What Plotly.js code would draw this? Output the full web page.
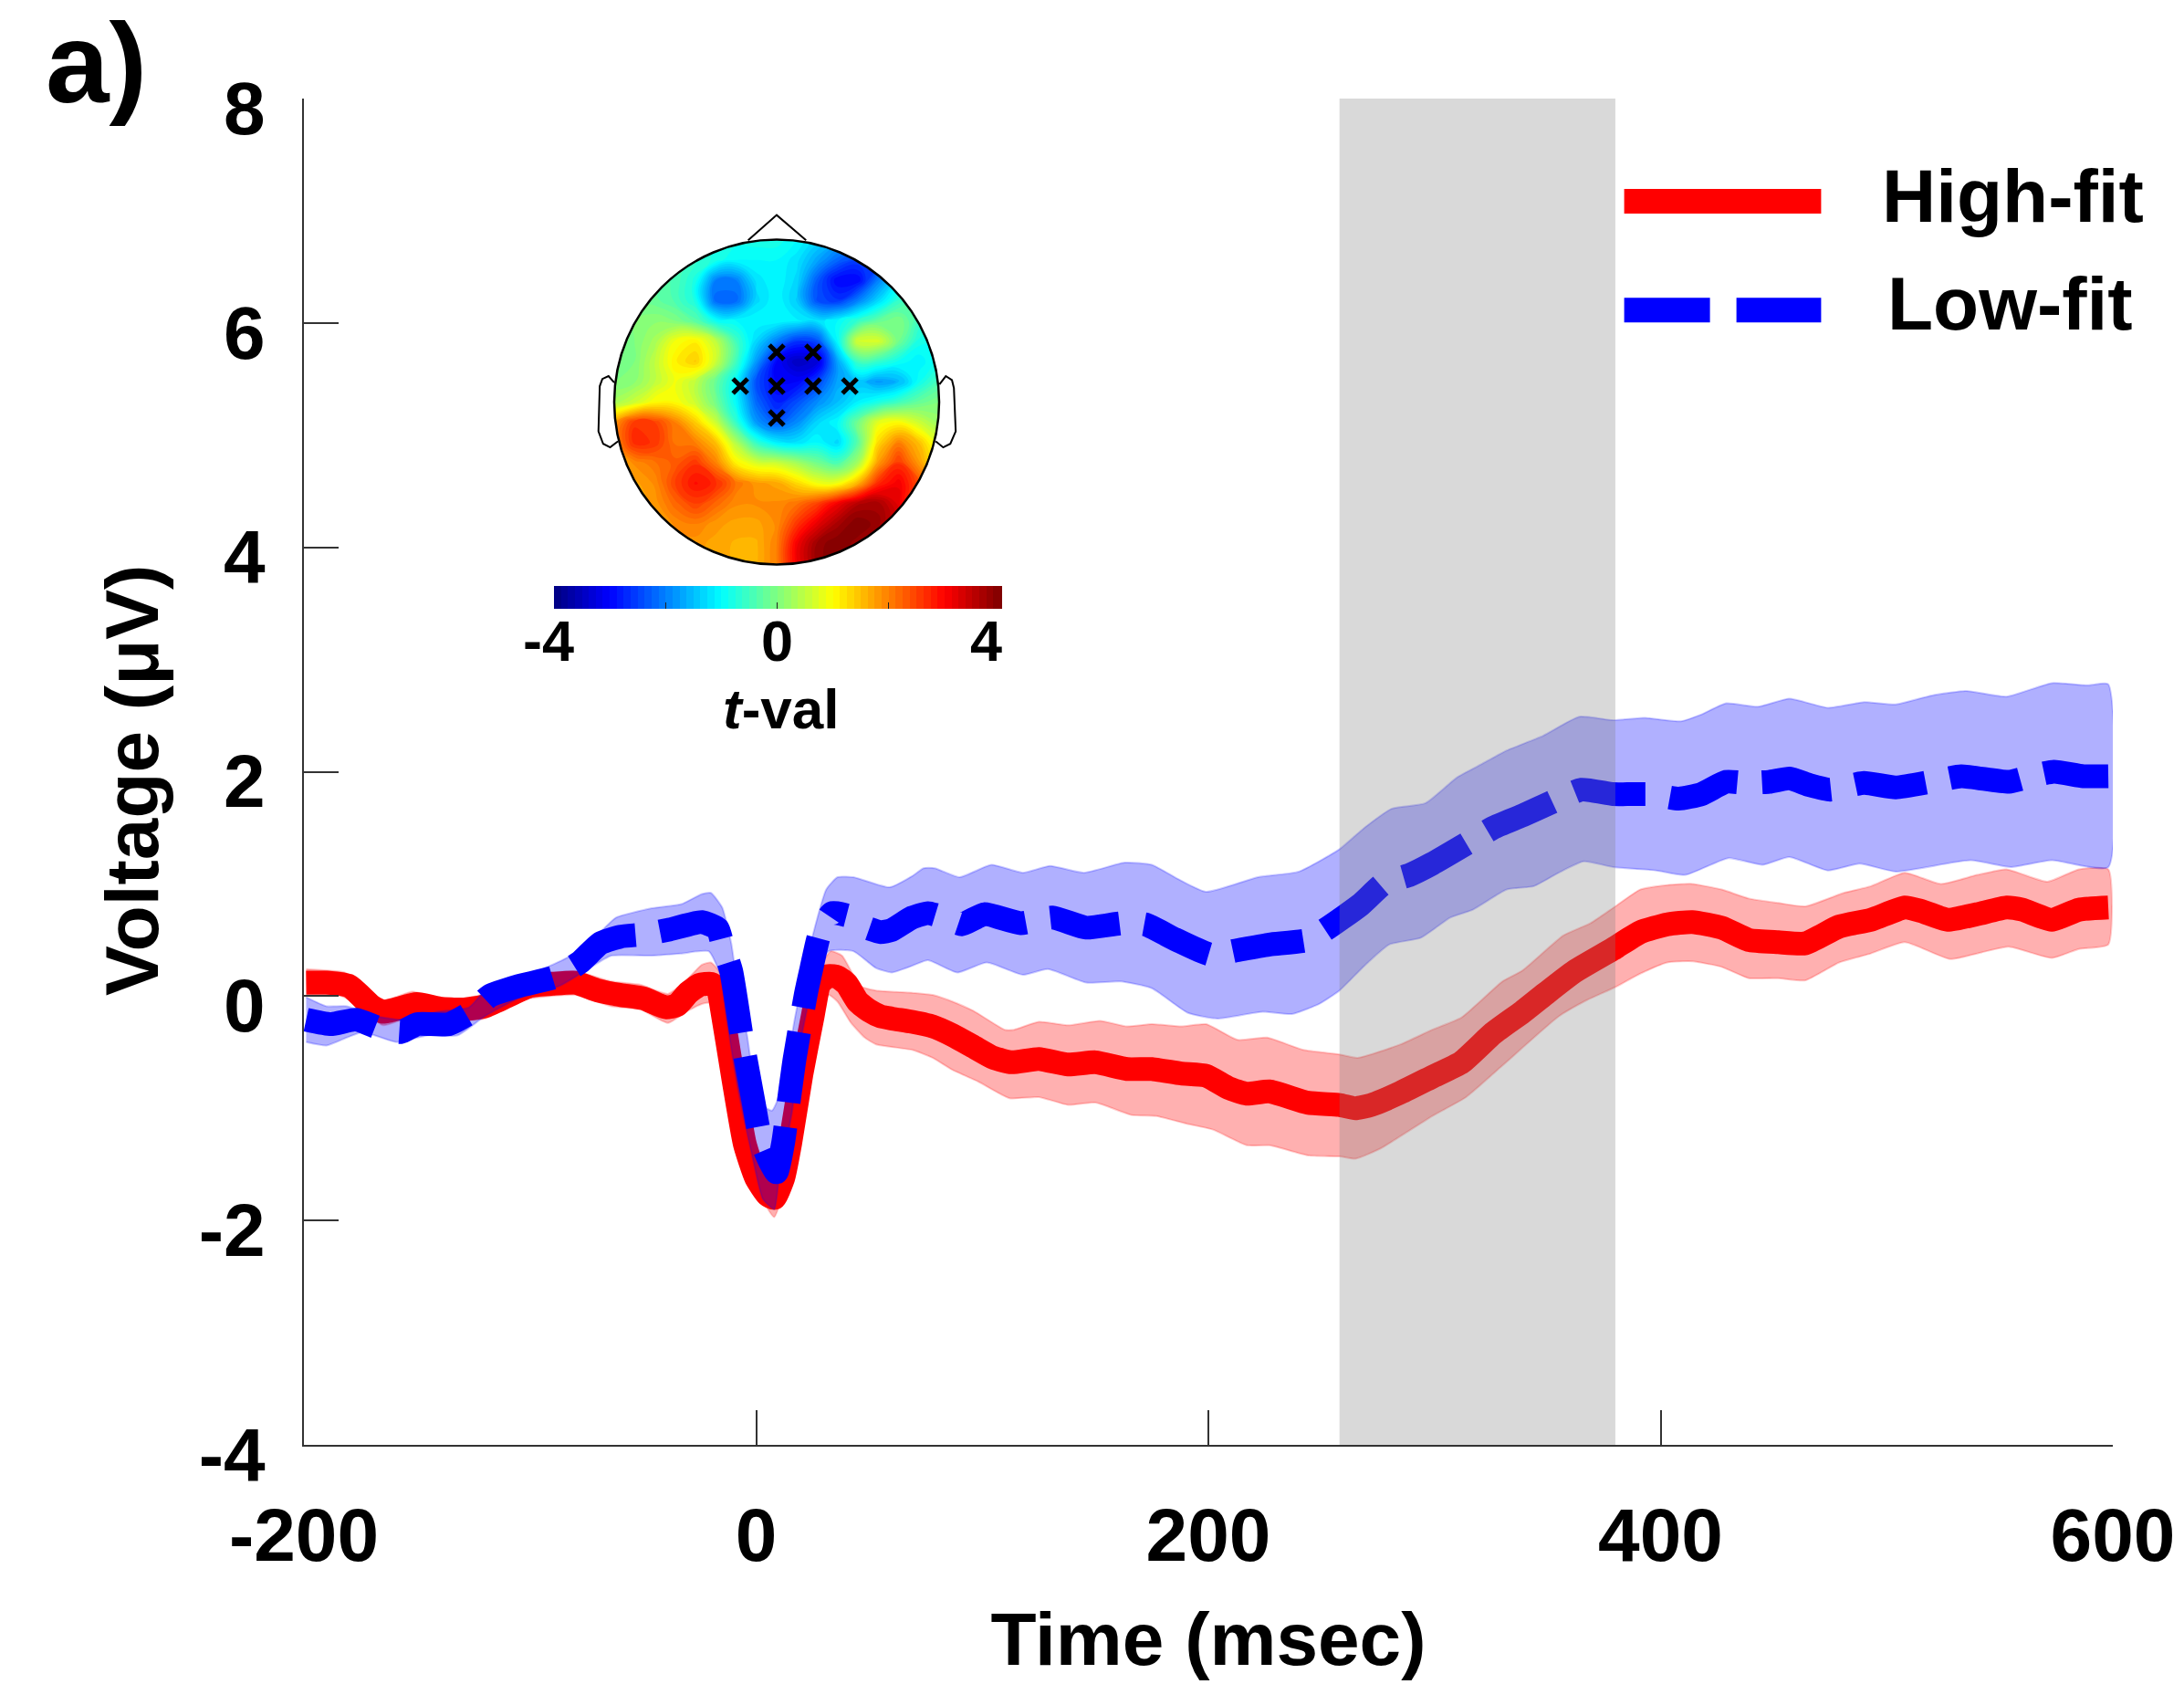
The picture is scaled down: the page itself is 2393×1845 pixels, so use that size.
<!DOCTYPE html>
<html><head><meta charset="utf-8">
<script src="https://cdn.plot.ly/plotly-3.0.1.min.js"></script>
<style>html,body{margin:0;padding:0;background:#fff}</style></head>
<body><div id="chart" style="width:2393px;height:1845px"></div>
<script>
const highT=[-199,-190,-180,-170,-165,-160,-150,-140,-130,-120,-110,-100,-90,-80,-70,-60,-50,-40,-35,-30,-25,-20,-17,-15,-10,-5,0,5,8,12,15,20,25,28,32,36,40,45,50,55,60,69,78,87,96,105,113,125,138,150,164,175,188,199,209,217,227,244,258,265,272,285,299,312,326,339,349,362,379,391,403,414,427,439,452,464,479,493,508,515,527,540,553,560,573,585,598];
const highV=[0.12,0.12,0.09,-0.09,-0.14,-0.12,-0.07,-0.11,-0.12,-0.09,0,0.09,0.11,0.12,0.05,0.01,-0.02,-0.10,-0.08,0.03,0.10,0.11,0.07,-0.13,-0.75,-1.32,-1.62,-1.77,-1.80,-1.62,-1.32,-0.70,-0.18,0.11,0.18,0.17,0.11,-0.05,-0.13,-0.18,-0.20,-0.23,-0.27,-0.35,-0.45,-0.55,-0.59,-0.56,-0.61,-0.59,-0.65,-0.65,-0.69,-0.71,-0.82,-0.87,-0.85,-0.95,-0.97,-1.0,-0.97,-0.86,-0.72,-0.59,-0.33,-0.14,0.02,0.22,0.42,0.57,0.64,0.66,0.61,0.50,0.48,0.47,0.62,0.68,0.79,0.76,0.68,0.73,0.79,0.77,0.68,0.77,0.79];
const highUpT=[-199,-182,-175,-165,-152,-136,-120,-102,-80,-64,-51,-39,-31,-24,-20,-16,-13,-8,-3,1,7,14,18,23,28,33,38,46,53,69,78,87,96,110,114,125,138,152,164,175,188,199,213,226,242,258,266,285,299,312,330,339,357,369,380,391,403,414,427,439,452,464,481,493,508,524,540,553,571,585,598];
const highUp=[0.24,0.21,0.12,-0.04,0.04,-0.04,0.02,0.18,0.22,0.13,0.10,0.02,0.14,0.28,0.30,0.21,-0.13,-0.67,-1.32,-1.62,-1.78,-1.43,-0.75,-0.13,0.25,0.40,0.36,0.09,0.05,0.03,0.01,-0.05,-0.13,-0.30,-0.30,-0.23,-0.26,-0.22,-0.27,-0.25,-0.27,-0.25,-0.39,-0.37,-0.48,-0.52,-0.55,-0.43,-0.30,-0.19,0.13,0.23,0.54,0.65,0.80,0.95,0.99,1.0,0.95,0.87,0.83,0.80,0.92,0.98,1.10,1.0,1.08,1.13,1.02,1.13,1.13];
const highLowT=[-199,-186,-181,-175,-165,-152,-136,-120,-102,-80,-64,-51,-39,-31,-24,-20,-17,-13,-10,-4,-1,8,12,17,21,26,32,36,42,48,53,69,78,87,98,112,125,138,150,166,177,191,202,217,227,244,258,265,276,299,314,330,355,367,380,391,403,414,427,439,452,464,479,493,508,528,542,554,573,585,598];
const highLow=[0.01,0.01,-0.02,-0.10,-0.26,-0.18,-0.22,-0.20,-0.03,0.01,-0.09,-0.12,-0.24,-0.14,-0.07,-0.06,-0.21,-0.70,-1.02,-1.43,-1.67,-1.97,-1.76,-1.51,-1.02,-0.35,0.01,-0.05,-0.24,-0.37,-0.43,-0.48,-0.55,-0.66,-0.76,-0.91,-0.90,-0.97,-0.95,-1.06,-1.07,-1.14,-1.19,-1.33,-1.33,-1.42,-1.43,-1.45,-1.36,-1.07,-0.90,-0.62,-0.18,-0.04,0.08,0.20,0.30,0.31,0.26,0.16,0.16,0.14,0.30,0.38,0.48,0.33,0.39,0.44,0.34,0.42,0.46];
const lowT=[-199,-188,-177,-166,-157,-150,-136,-125,-118,-105,-89,-78,-69,-60,-50,-39,-24,-17,-15,-11,-6,-1,2,6.5,9,12,15,17,22,24.5,28,33.5,40,null,50,55,60,69,76,83,91,101,117,131,146,162,172,186,201,213,227,244,253,267,278,289,299,316,326,339,351,365,379,387,396,408,418,429,438,448,457,466,475,480,490,504,522,533,554,564,574,587,598];
const lowV=[-0.21,-0.25,-0.21,-0.29,-0.32,-0.25,-0.25,-0.13,0,0.09,0.17,0.30,0.47,0.53,0.55,0.59,0.66,0.60,0.47,0.22,-0.41,-0.96,-1.28,-1.49,-1.57,-1.3,-0.85,-0.56,0.02,0.25,0.55,0.74,0.72,null,0.60,0.57,0.59,0.70,0.74,0.70,0.64,0.73,0.65,0.70,0.61,0.65,0.64,0.50,0.37,0.41,0.46,0.50,0.61,0.81,1.01,1.08,1.18,1.38,1.50,1.61,1.72,1.84,1.80,1.80,1.80,1.76,1.80,1.91,1.90,1.91,1.94,1.88,1.84,1.86,1.90,1.86,1.92,1.96,1.91,1.96,2.0,1.96,1.96];
const lowUpT=[-199,-190,-181,-170,-157,-141,-127,-118,-98,-82,-69,-62,-47,-33,-24,-20,-15,-11,-9,-4,1,7,12,17,23,31,36,43,59,69,74,79,90,104,118,130,145,163,175,186,199,222,240,258,269,281,296,310,321,332,348,364,379,393,409,418,429,443,457,474,490,504,520,535,553,573,589,598];
const lowUp=[-0.01,-0.09,-0.09,-0.17,-0.21,-0.14,-0.10,0.09,0.21,0.36,0.57,0.70,0.78,0.82,0.91,0.92,0.79,0.47,0.20,-0.35,-0.94,-1.02,-0.78,-0.21,0.38,0.95,1.06,1.06,0.97,1.07,1.14,1.14,1.06,1.17,1.10,1.16,1.10,1.19,1.17,1.05,0.93,1.06,1.11,1.31,1.50,1.67,1.72,1.95,2.07,2.19,2.32,2.49,2.46,2.48,2.45,2.51,2.61,2.58,2.65,2.57,2.62,2.60,2.68,2.72,2.67,2.79,2.77,2.78];
const lowLowT=[-199,-190,-181,-174,-159,-145,-132,-120,-105,-87,-76,-64,-47,-33,-21,-16,-13,-8,-2,3,8,10,16,19,25,32,43,53,60,69,76,89,102,118,129,146,161,175,191,204,224,237,249,258,269,280,294,307,317,332,344,355,366,379,398,411,430,445,457,474,488,504,537,555,573,598];
const lowLow=[-0.41,-0.44,-0.37,-0.32,-0.41,-0.35,-0.35,-0.18,-0.02,0.09,0.22,0.36,0.36,0.38,0.40,0.20,-0.21,-0.83,-1.40,-1.81,-1.90,-1.65,-1.02,-0.48,0.09,0.40,0.40,0.25,0.21,0.27,0.32,0.21,0.30,0.19,0.24,0.12,0.13,0.07,-0.15,-0.20,-0.14,-0.16,-0.07,0.05,0.27,0.46,0.52,0.70,0.77,0.95,0.98,1.10,1.20,1.15,1.12,1.08,1.23,1.17,1.24,1.12,1.18,1.11,1.21,1.15,1.21,1.15];

const windowStart=258, windowEnd=380;
const xTicks=[-200,0,200,400,600];
const yTicks=[-4,-2,0,2,4,6,8];
const seriesNames=['High-fit','Low-fit'];

const topoU=[-1,-0.875,-0.75,-0.625,-0.5,-0.375,-0.25,-0.125,0,0.125,0.25,0.375,0.5,0.625,0.75,0.875,1];
const topoV=[1,0.875,0.75,0.625,0.5,0.375,0.25,0.125,0,-0.125,-0.25,-0.375,-0.5,-0.625,-0.75,-0.875,-1];
const topoZ=[
[-0.5,-0.5,-0.5,-0.6,-0.7,-0.8,-0.8,-0.8,-0.8,-1,-1.3,-1.6,-1.8,-1.8,-1.5,-1.2,-1.2],
[-0.3,-0.3,-0.3,-0.4,-0.6,-0.8,-1,-1,-1,-1.2,-1.7,-2.2,-2.5,-2.5,-2,-1.5,-1.5],
[-0.2,-0.2,-0.3,-0.4,-0.8,-2,-2,-1.2,-1,-1.3,-2.3,-3,-3,-2,-1.2,-1,-1],
[-0.1,-0.1,-0.2,-0.4,-0.8,-2.2,-2.2,-1.3,-1,-1.4,-2.4,-2.6,-2,-1.3,-0.6,-0.3,-0.3],
[0,0,0.1,0,-0.3,-0.9,-1,-1,-1,-1.1,-1.2,-1,-0.6,-0.2,0,-0.5,-0.8],
[-0.2,0,0.3,0.9,1.1,0.5,-0.5,-1.3,-2,-2.6,-2.4,-1,0.7,0.7,-0.1,-0.8,-0.9],
[-0.1,0,0.5,1.1,1.4,0.6,-0.5,-1.8,-3,-3.5,-3.3,-1.7,-0.5,-0.6,-0.9,-1.1,-0.8],
[0,0.1,0.5,0.9,0.5,-0.2,-1,-2.4,-3,-3,-2.5,-1.7,-1.5,-1.8,-1.6,-0.9,-0.4],
[0.3,0.6,1,1,0.6,-0.1,-1,-2.2,-2.8,-2.4,-1.9,-1.5,-1.1,-0.8,-0.5,-0.2,0],
[1.8,2.6,2.5,2,1.4,0.6,-0.6,-1.8,-2.3,-1.9,-1.3,-1,-0.1,0.8,1,0.6,0.2],
[1.9,2.7,2.6,2.1,2,1.5,0.4,-0.6,-1.1,-1.2,-1,-1.3,-0.3,1.3,2,1.5,0.7],
[1.7,1.9,2.1,2.3,2.6,2,1.1,0.7,0.6,0.3,-0.1,-0.4,0.3,1.8,2.6,1.8,1],
[1.6,1.7,1.9,2.5,2.9,2.7,2.1,1.8,1.7,1.3,0.9,0.9,1.6,2.7,3.1,2.4,1.5],
[1.6,1.6,1.8,2.2,2.5,2.2,1.9,1.9,1.9,2.1,2.5,3.1,3.6,3.7,3.2,2,1.5],
[1.6,1.6,1.7,1.9,2,1.8,1.7,1.7,1.9,2.6,3.2,3.7,4,3.8,3.3,2,1.5],
[1.6,1.6,1.7,1.8,1.8,1.7,1.6,1.6,2,3.1,3.8,4,3.8,3.5,3,2,1.5],
[1.6,1.6,1.7,1.8,1.8,1.7,1.6,1.6,2,3.1,3.8,4,3.8,3.5,3,2,1.5]];
const sensorU=[0,0.224,-0.224,0,0.224,0.45,0];
const sensorV=[0.306,0.306,0.098,0.098,0.098,0.098,-0.098];
const tValTicks=[-4,-2,0,2,4];
const tValLabels=['-4','0','4'];

const W=2393,H=1845,L=333,R=2315,T=108,B=1583;
const px=v=>(v-L)/(R-L), py=v=>1-(v-T)/(B-T);
const CX=851,CY=440.5,RAD=178;
const font={family:'"Liberation Sans", Arial, sans-serif',color:'#000',weight:700};
const poly=(t1,v1,t2,v2)=>({x:t1.concat(t2.slice().reverse()),y:v1.concat(v2.slice().reverse())});
function band(t1,v1,t2,v2,rgb){const p=poly(t1,v1,t2,v2);return {type:'scatter',mode:'lines',x:p.x,y:p.y,fill:'toself',fillcolor:`rgba(${rgb},0.31)`,line:{color:`rgba(${rgb},0.2)`,width:2,shape:'spline',smoothing:0.5},hoverinfo:'skip',showlegend:false};}
const legendT=[383.9,471];
const traces=[
 band(highUpT,highUp,highLowT,highLow,'255,0,0'),
 {type:'scatter',mode:'lines',name:seriesNames[0],x:highT,y:highV,line:{color:'#ff0000',width:26,shape:'spline',smoothing:0.5},showlegend:false},
 band(lowUpT,lowUp,lowLowT,lowLow,'0,0,255'),
 {type:'scatter',mode:'lines',name:seriesNames[1],x:lowT,y:lowV,connectgaps:false,line:{color:'#0000ff',width:26,dash:'78px,27px',shape:'spline',smoothing:0.5},showlegend:false},
 {type:'scatter',mode:'lines',x:legendT,y:[7.085,7.085],line:{color:'#ff0000',width:27},showlegend:false,hoverinfo:'skip'},
 {type:'scatter',mode:'lines',x:legendT,y:[6.115,6.115],line:{color:'#0000ff',width:27,dash:'94px,29px'},showlegend:false,hoverinfo:'skip'},
 {type:'contour',x:topoU,y:topoV,z:topoZ,xaxis:'x2',yaxis:'y2',zmin:-4,zmax:4,autocontour:false,contours:{start:-4,end:4,size:0.125,coloring:'fill',showlines:false},line:{width:0,smoothing:1.3},colorscale:[[0,'#00007f'],[0.125,'#0000ff'],[0.375,'#00ffff'],[0.625,'#ffff00'],[0.875,'#ff0000'],[1,'#7f0000']],
  colorbar:{orientation:'h',x:px(607),xanchor:'left',y:py(674),yanchor:'bottom',len:489,lenmode:'pixels',thickness:25,thicknessmode:'pixels',outlinewidth:0,xpad:0,ypad:0,tickmode:'array',tickvals:tValTicks,ticktext:['','','','',''],ticks:'inside',ticklen:7,tickcolor:'#222',tickwidth:1,showticklabels:false},hoverinfo:'skip'},
 {type:'scatter',mode:'markers',x:sensorU,y:sensorV,xaxis:'x2',yaxis:'y2',marker:{symbol:'x-thin',size:16,line:{color:'#000',width:5}},showlegend:false,hoverinfo:'skip'}
];
const k=0.5523;
const circ=`M 1 0 C 1 ${k} ${k} 1 0 1 C ${-k} 1 -1 ${k} -1 0 C -1 ${-k} ${-k} -1 0 -1 C ${k} -1 1 ${-k} 1 0 Z`;
const hoX=(X)=>(X-731)/518, hoY=(Y)=>(609-Y)/451;
const pth=(pts)=>'M '+pts.map(p=>hoX(p[0]).toFixed(3)+' '+hoY(p[1]).toFixed(3)).join(' L ');
const earL=[[213,555],[195,537],[175,545],[167,565],[163,690],[178,725],[200,735],[225,718]];
const earR=[[1250,560],[1270,537],[1290,548],[1296,570],[1302,690],[1285,725],[1262,735],[1238,718]];
const nose=[[640,160],[731,90],[825,160]];
const outline={color:'#000',width:2};
const shapes=[
 {type:'rect',xref:'x',yref:'y',x0:windowStart,x1:windowEnd,y0:-4,y1:8,fillcolor:'rgba(128,128,128,0.3)',line:{width:0},layer:'above'},
 {type:'path',xref:'x2',yref:'y2',path:`M -1.09 -1.09 L 1.09 -1.09 L 1.09 1.09 L -1.09 1.09 Z ${circ}`,fillcolor:'#fff',line:{width:0},layer:'above'},
 {type:'path',xref:'x2',yref:'y2',path:circ,fillcolor:'rgba(0,0,0,0)',line:{color:'#000',width:2.5},layer:'above'},
 {type:'path',xref:'x2',yref:'y2',path:pth(earL),line:outline,layer:'above'},
 {type:'path',xref:'x2',yref:'y2',path:pth(earR),line:outline,layer:'above'},
 {type:'path',xref:'x2',yref:'y2',path:pth(nose),line:outline,layer:'above'}
];
const ann=(text,xp,yp,size,extra)=>Object.assign({text,xref:'paper',yref:'paper',x:px(xp),y:py(yp),showarrow:false,xanchor:'center',yanchor:'middle',font:Object.assign({},font,{size})},extra||{});
const annotations=[
 ann('a)',105,69,125),
 ann(seriesNames[0],2205,215,82),
 ann(seriesNames[1],2202,332,82),
 ann(tValLabels[0],601,702,63),
 ann(tValLabels[1],851,702,63),
 ann(tValLabels[2],1080,702,63),
 ann('<i>t</i>-val',856,777,62),
 ann('Voltage (μV)',144,855,82,{textangle:-90})
];
const ix0=620,ix1=1082,iy0=200,iy1=640;
const layout={width:W,height:H,margin:{l:L,r:W-R,t:T,b:H-B,pad:0},paper_bgcolor:'#fff',plot_bgcolor:'#fff',showlegend:false,font,
 xaxis:{range:[-200,600],tickmode:'array',tickvals:xTicks,ticktext:xTicks.map(String),ticks:'inside',ticklen:38,tickwidth:2,tickcolor:'#333',showgrid:false,zeroline:false,showline:true,linecolor:'#333',linewidth:2,tickfont:Object.assign({},font,{size:82}),ticklabelstandoff:27,title:{text:'Time (msec)',font:Object.assign({},font,{size:82}),standoff:40}},
 yaxis:{range:[-4,8],tickmode:'array',tickvals:yTicks,ticktext:yTicks.map(String),ticks:'inside',ticklen:38,tickwidth:2,tickcolor:'#333',showgrid:false,zeroline:false,showline:true,linecolor:'#333',linewidth:2,tickfont:Object.assign({},font,{size:82}),ticklabelstandoff:24,ticklabelshift:10},
 xaxis2:{domain:[px(ix0),px(ix1)],range:[(ix0-CX)/RAD,(ix1-CX)/RAD],anchor:'y2',visible:false,fixedrange:true},
 yaxis2:{domain:[py(iy1),py(iy0)],range:[(CY-iy1)/RAD,(CY-iy0)/RAD],anchor:'x2',visible:false,fixedrange:true},
 shapes,annotations};
Plotly.newPlot('chart',traces,layout,{displayModeBar:false,staticPlot:true});
</script></body></html>
